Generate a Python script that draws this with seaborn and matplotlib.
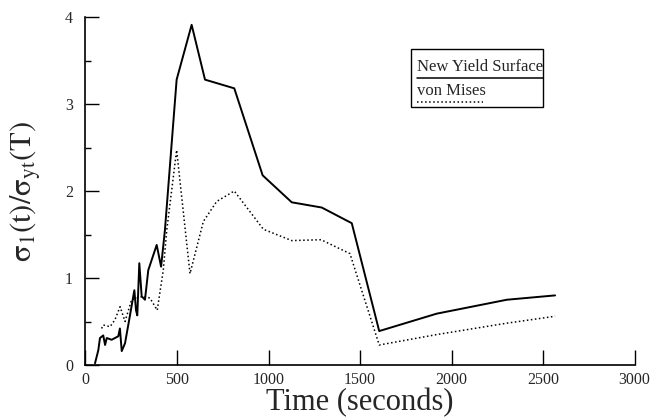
import numpy as np
import pandas as pd
import seaborn as sns
import matplotlib.pyplot as plt
from matplotlib.patches import Rectangle

# values
t_new = [52, 70, 79, 97, 107, 116, 143, 179, 188, 198, 216, 243, 267, 276, 283, 294, 307,
         325, 343, 389, 413, 434, 498, 580, 653, 813, 968, 1127, 1291, 1455, 1605, 1919, 2302, 2566]
s_new = [0.02, 0.17, 0.31, 0.34, 0.23, 0.31, 0.29, 0.33, 0.42, 0.16, 0.25, 0.57, 0.86, 0.63, 0.57, 1.17, 0.79,
         0.75, 1.09, 1.38, 1.13, 1.55, 3.28, 3.91, 3.28, 3.18, 2.18, 1.87, 1.81, 1.63, 0.39, 0.59, 0.75, 0.80]

t_vm = [88, 97, 134, 161, 189, 216, 252, 316, 352, 392, 425, 444, 498, 571, 644, 717, 813,
        972, 1127, 1287, 1445, 1605, 1920, 2300, 2566]
s_vm = [0.42, 0.46, 0.44, 0.52, 0.67, 0.50, 0.75, 0.79, 0.77, 0.63, 1.09, 1.55, 2.47, 1.05, 1.65, 1.88, 2.00,
        1.56, 1.43, 1.44, 1.28, 0.23, 0.35, 0.48, 0.56]

xticks = [0, 500, 1000, 1500, 2000, 2500, 3000]
yticks = [0, 1, 2, 3, 4]

sns.set_style('ticks')
plt.rcParams['font.family'] = ['Liberation Serif', 'DejaVu Serif']
plt.rcParams['mathtext.fontset'] = 'stix'

df_new = pd.DataFrame({'t': t_new, 's': s_new})
df_vm = pd.DataFrame({'t': t_vm, 's': s_vm})

fig = plt.figure(figsize=(6.53, 4.2), dpi=100)
ax = fig.add_axes([85.5/653, 1-365/420, 549/653, 348/420])

sns.lineplot(data=df_new, x='t', y='s', ax=ax, color='black', lw=1.4, sort=False)
sns.lineplot(data=df_vm, x='t', y='s', ax=ax, color='black', lw=1.1, ls=':', sort=False)

ax.set_xlim(0, 3000)
ax.set_ylim(0, 4)
ax.set_xticks(xticks)
ax.set_yticks(yticks)
ax.set_yticks(np.arange(0.5, 4, 1), minor=True)
ax.tick_params(axis='both', which='both', direction='in', labelsize=11.5, width=1, color='black')
ax.tick_params(axis='x', length=11, pad=5)
ax.tick_params(axis='y', length=10, pad=9)
ax.tick_params(axis='y', which='minor', length=4)
sns.despine(ax=ax)
for s in ['left', 'bottom']:
    ax.spines[s].set_color('black')
    ax.spines[s].set_linewidth(1.2)

ax.set_xlabel('Time (seconds)', fontsize=22, labelpad=0)
ax.set_ylabel(r'$\mathrm{\sigma_1(t)/\sigma_{yt}(T)}$', fontsize=22, labelpad=16)

# legend drawn by hand: label text with line sample underneath
ax.add_patch(Rectangle((0.593, 0.742), 0.241, 0.165, transform=ax.transAxes,
                       fill=False, edgecolor='black', lw=1))
ax.text(0.603, 0.845, 'New Yield Surface', transform=ax.transAxes, fontsize=12, va='baseline')
ax.plot([0.603, 0.834], [0.826, 0.826], transform=ax.transAxes, color='black', lw=1.1)
ax.text(0.603, 0.775, 'von Mises', transform=ax.transAxes, fontsize=12, va='baseline')
ax.plot([0.603, 0.724], [0.757, 0.757], transform=ax.transAxes, color='black', lw=1.1, ls=':')

fig.savefig('out.png', dpi=100)
